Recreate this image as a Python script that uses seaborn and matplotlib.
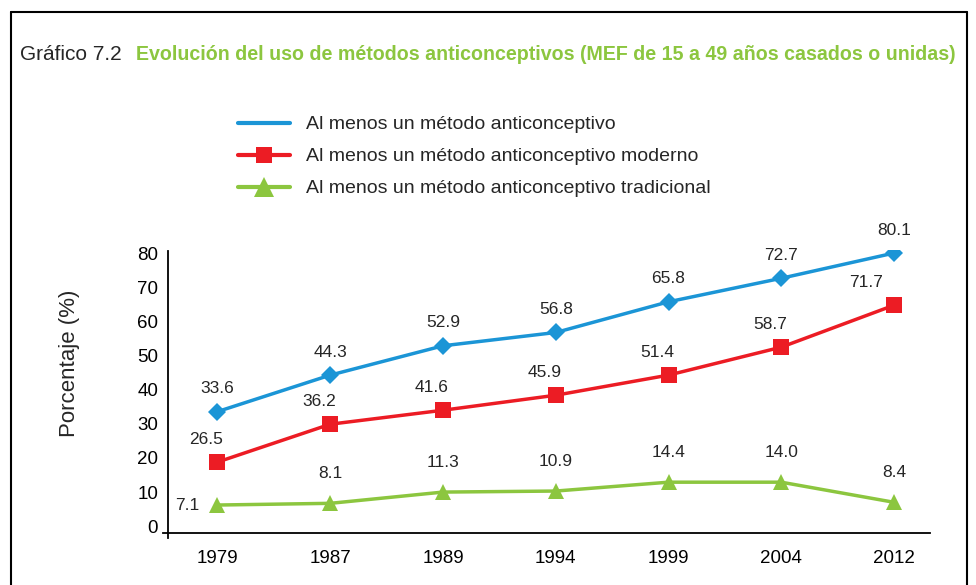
import seaborn as sns
import matplotlib.pyplot as plt
from matplotlib.lines import Line2D
import pandas as pd

years = ['1979', '1987', '1989', '1994', '1999', '2004', '2012']
# printed value labels
total_lbl = [33.6, 44.3, 52.9, 56.8, 65.8, 72.7, 80.1]
modern_lbl = [26.5, 36.2, 41.6, 45.9, 51.4, 58.7, 71.7]
trad_lbl = [7.1, 8.1, 11.3, 10.9, 14.4, 14.0, 8.4]
# where the markers actually sit in the original picture
total_pos = [33.6, 44.3, 52.9, 56.8, 65.8, 72.7, 80.1]
modern_pos = [18.8, 29.9, 34.0, 38.4, 44.3, 52.5, 64.8]
trad_pos = [6.2, 6.7, 10.0, 10.3, 12.9, 12.9, 7.0]

names = ['Al menos un método anticonceptivo',
         'Al menos un método anticonceptivo moderno',
         'Al menos un método anticonceptivo tradicional']

blue = '#1b95d6'
red = '#ec1c24'
green = '#8cc63f'

sns.set_style('white')
plt.rcParams['font.family'] = ['Liberation Sans', 'DejaVu Sans']

df = pd.DataFrame({'x': list(range(len(years))) * 3,
                   'y': total_pos + modern_pos + trad_pos,
                   's': [names[0]] * 7 + [names[1]] * 7 + [names[2]] * 7})

fig = plt.figure(figsize=(9.76, 5.85), dpi=100)
ax = fig.add_axes([0.172, 0.0889, 0.781, 0.4838])

styles = [(blue, 'D', 9), (red, 's', 11), (green, '^', 12)]
for name, (c, m, ms) in zip(names, styles):
    d = df[df.s == name]
    sns.lineplot(data=d, x='x', y='y', ax=ax, color=c, marker=m, markersize=ms,
                 markeredgewidth=0, linewidth=2.5, legend=False)

fs = 12.5
for i in range(len(years)):
    ax.text(i, total_pos[i] + 4.5, '%.1f' % total_lbl[i], ha='center', va='bottom', fontsize=fs)
    dx = -0.25 if i == 6 else -0.1
    ax.text(i + dx, modern_pos[i] + 4.5, '%.1f' % modern_lbl[i],
            ha='center', va='bottom', fontsize=fs)
    if i == 0:
        ax.text(i - 0.16, trad_pos[i], '%.1f' % trad_lbl[i], ha='right', va='center', fontsize=fs)
    else:
        ax.text(i, trad_pos[i] + 6.5, '%.1f' % trad_lbl[i], ha='center', va='bottom', fontsize=fs)

ax.set_xlim(-0.44, 6.32)
ax.set_ylim(-2, 81)
ax.set_yticks([0, 10, 20, 30, 40, 50, 60, 70, 80])
ax.set_xticks(range(len(years)))
ax.set_xticklabels(years)
ax.tick_params(axis='both', length=0, labelsize=13.5, colors='black')
ax.tick_params(axis='x', pad=12)
ax.tick_params(axis='y', pad=7)
ax.set_xlabel('')
ax.set_ylabel('Porcentaje (%)', fontsize=16)
ax.yaxis.set_label_coords(-0.115, 0.6)
for s in ['top', 'right']:
    ax.spines[s].set_visible(False)
for s in ['left', 'bottom']:
    ax.spines[s].set_color('black')
    ax.spines[s].set_linewidth(1.3)
ax.spines['left'].set_bounds(-3.5, 80.6)
ax.spines['bottom'].set_bounds(-0.48, 6.32)

handles = [Line2D([], [], color=blue, lw=3),
           Line2D([], [], color=red, lw=3, marker='s', ms=12, mew=0),
           Line2D([], [], color=green, lw=3, marker='^', ms=14, mew=0)]
fig.legend(handles, names, loc='upper left', bbox_to_anchor=(0.226, 0.832),
           frameon=False, fontsize=14, handlelength=2.65, handletextpad=0.85,
           labelspacing=0.74)

fig.text(0.021, 0.906, 'Gráfico 7.2', fontsize=15, va='center')
fig.text(0.139, 0.906, 'Evolución del uso de métodos anticonceptivos (MEF de 15 a 49 años casados o unidas)',
         fontsize=14.1, va='center', color=green, fontweight='bold')

# frame around the page section
fig.add_artist(Line2D([0.011, 0.991], [0.979, 0.979], color='black', lw=1.5))
fig.add_artist(Line2D([0.011, 0.011], [0.0, 0.979], color='black', lw=1.5))
fig.add_artist(Line2D([0.991, 0.991], [0.0, 0.979], color='black', lw=1.5))

fig.savefig('out.png', dpi=100)
